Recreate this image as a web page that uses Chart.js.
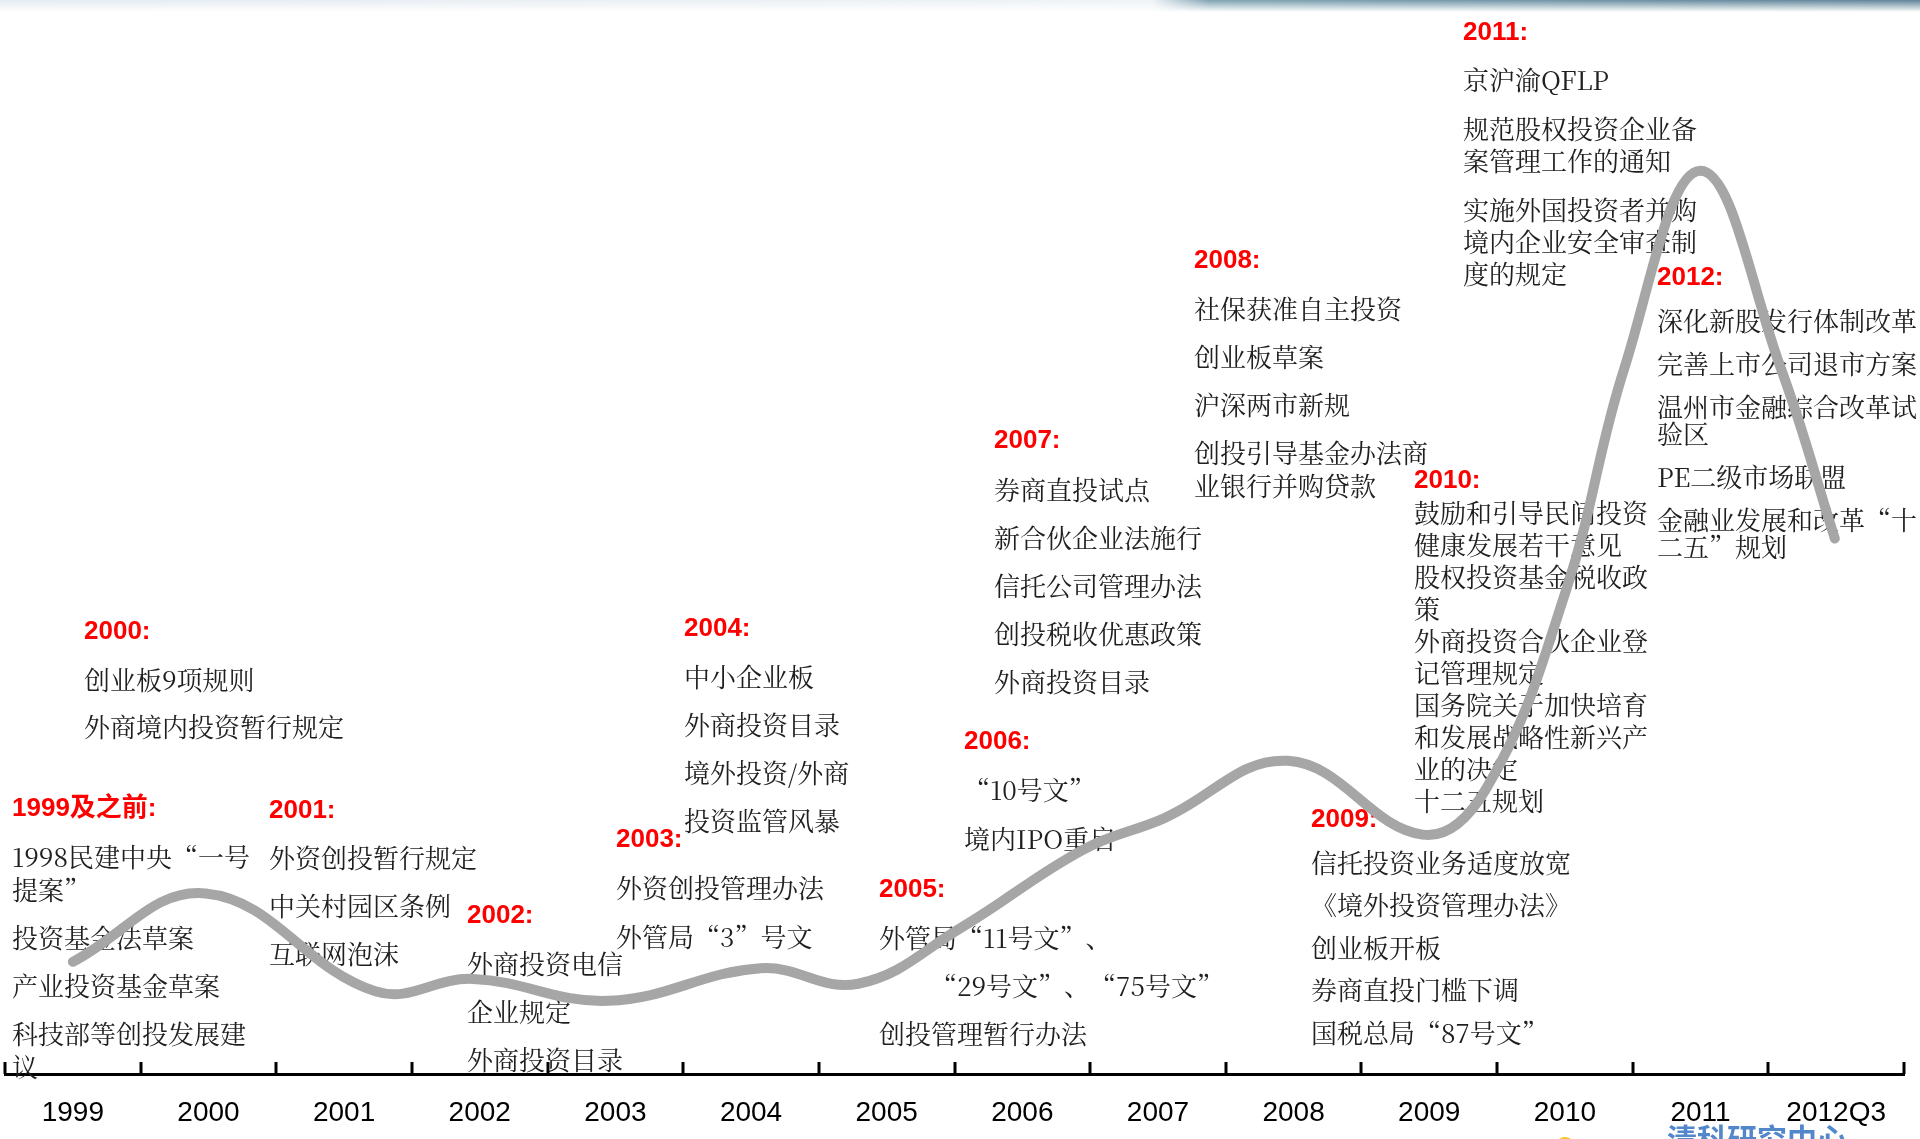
<!DOCTYPE html>
<html>
<head>
<meta charset="utf-8">
<script src="https://cdn.jsdelivr.net/npm/chart.js@4"></script>
<style>
  html, body { margin: 0; padding: 0; background: #fff; overflow: hidden; }
  #wrap { position: relative; width: 1920px; height: 1139px; }
  #chart { position: absolute; left: 0; top: 0; }
  #band { position: absolute; left: 0; top: 0; width: 1920px; height: 12px;
    background: linear-gradient(to bottom, rgba(255,255,255,0) 0%, #fff 100%),
                linear-gradient(to right, #e4ebf2 0%, #eef3f6 60%, #7fa2b2 63%, #5f8498 100%); }
</style>
</head>
<body>
<div id="wrap">
  <canvas id="chart" width="1920" height="1139"></canvas>
  <div id="band"></div>
</div>
<script>
const years = ["1999", "2000", "2001", "2002", "2003", "2004", "2005",
  "2006", "2007", "2008", "2009", "2010", "2011", "2012Q3"];

// curve: position on the time axis (0 = 1999) and its height
const curveX = [0, 0.98, 2.23, 2.95, 3.95, 5.07, 5.79, 6.55, 7.45, 8.04,
  8.96, 9.95, 10.42, 11.01, 11.44, 12.0, 12.59, 12.99];
const curveY = [10.5, 16.9, 7.75, 8.9, 6.85, 9.9, 8.45, 13.7, 21.0, 23.9,
  29.3, 22.4, 26.7, 45.3, 66.1, 84.5, 66.1, 50.1];

const eventTitles = ["1999及之前:", "2000:", "2001:", "2002:", "2003:", "2004:", "2005:",
  "2006:", "2007:", "2008:", "2009:", "2010:", "2011:", "2012:"];

const eventItems = [
  [["1998民建中央“一号", "提案”"], "投资基金法草案", "产业投资基金草案", ["科技部等创投发展建", "议"]],
  ["创业板9项规则", "外商境内投资暂行规定"],
  ["外资创投暂行规定", "中关村园区条例", "互联网泡沫"],
  ["外商投资电信", "企业规定", "外商投资目录"],
  ["外资创投管理办法", "外管局“3”号文"],
  ["中小企业板", "外商投资目录", "境外投资/外商", "投资监管风暴"],
  ["外管局“11号文”、", "　　“29号文”、“75号文”", "创投管理暂行办法"],
  ["“10号文”", "境内IPO重启"],
  ["券商直投试点", "新合伙企业法施行", "信托公司管理办法", "创投税收优惠政策", "外商投资目录"],
  ["社保获准自主投资", "创业板草案", "沪深两市新规", ["创投引导基金办法商", "业银行并购贷款"]],
  ["信托投资业务适度放宽", "《境外投资管理办法》", "创业板开板", "券商直投门槛下调", "国税总局“87号文”"],
  [["鼓励和引导民间投资", "健康发展若干意见"], ["股权投资基金税收政", "策"],
   ["外商投资合伙企业登", "记管理规定"], ["国务院关于加快培育", "和发展战略性新兴产", "业的决定"], "十二五规划"],
  ["京沪渝QFLP", ["规范股权投资企业备", "案管理工作的通知"], ["实施外国投资者并购", "境内企业安全审查制", "度的规定"]],
  ["深化新股发行体制改革", "完善上市公司退市方案", ["温州市金融综合改革试", "验区"], "PE二级市场联盟", ["金融业发展和改革“十", "二五”规划"]]
];

/* where each year's block of text sits */
const blockLayout = [
  { x: 12, y: 809, head: 48, gap: 48, line: 33 },
  { x: 84, y: 632, head: 48, gap: 47, line: 32 },
  { x: 269, y: 811, head: 47, gap: 48, line: 32 },
  { x: 467, y: 916, head: 48, gap: 48, line: 32 },
  { x: 616, y: 840, head: 48, gap: 49, line: 32 },
  { x: 684, y: 629, head: 48, gap: 48, line: 32 },
  { x: 879, y: 890, head: 48, gap: 48, line: 32 },
  { x: 964, y: 742, head: 48, gap: 49, line: 32 },
  { x: 994, y: 441, head: 49, gap: 48, line: 32 },
  { x: 1194, y: 261, head: 48, gap: 48, line: 33 },
  { x: 1311, y: 820, head: 43, gap: 42.5, line: 32 },
  { x: 1414, y: 481, head: 32, gap: 32, line: 32 },
  { x: 1463, y: 33, head: 47, gap: 49, line: 32 },
  { x: 1657, y: 278, head: 43, gap: 43, line: 27 }
];

const AXIS_Y = 1074;   // axis line of the slide

/* Event text, drawn under the curve */
const eventText = {
  id: "eventText",
  beforeDatasetsDraw(chart) {
    const ctx = chart.ctx;
    ctx.save();
    ctx.textAlign = "left";
    ctx.textBaseline = "middle";
    eventTitles.forEach((title, i) => {
      const b = blockLayout[i];
      ctx.fillStyle = "#ff0000";
      ctx.font = 'bold 26px "Liberation Sans", Arial, "Noto Sans CJK SC", sans-serif';
      ctx.fillText(title, b.x, b.y);

      ctx.fillStyle = "#1f1f1f";
      ctx.font = '26px "Noto Serif CJK SC", "Noto Sans CJK SC", serif';
      let y = b.y + b.head;
      eventItems[i].forEach(item => {
        const lines = Array.isArray(item) ? item : [item];
        lines.forEach((ln, j) => {
          ctx.fillText(ln, b.x, y);
          if (j < lines.length - 1) y += b.line;
        });
        y += b.gap;
      });
    });

    // source mark, cut by the bottom edge
    ctx.fillStyle = "#5287c9";
    ctx.font = 'bold 30px "Noto Sans CJK SC", sans-serif';
    ctx.textBaseline = "top";
    ctx.fillText("清科研究中心", 1667, 1124);
    ctx.fillStyle = "#f3c623";
    ctx.beginPath();
    ctx.arc(1565, 1147, 10, 0, Math.PI * 2);
    ctx.fill();
    ctx.restore();
  }
};

/* Short ticks pointing up from the axis, between the years */
const upTicks = {
  id: "upTicks",
  afterDraw(chart) {
    const xs = chart.scales.x;
    const ctx = chart.ctx;
    ctx.save();
    ctx.strokeStyle = "#000";
    ctx.lineWidth = 3;
    ctx.beginPath();
    xs.ticks.forEach(t => {
      if (Number.isInteger(t.value)) return;
      const px = Math.round(xs.getPixelForValue(t.value));
      ctx.moveTo(px, xs.top);
      ctx.lineTo(px, xs.top - 12);
    });
    ctx.stroke();
    ctx.restore();
  }
};

const chart = new Chart(document.getElementById("chart").getContext("2d"), {
  type: "line",
  data: {
    datasets: [{
      data: curveX.map((x, i) => ({ x, y: curveY[i] })),
      borderColor: "#a6a6a6",
      borderWidth: 10,
      borderCapStyle: "round",
      borderJoinStyle: "round",
      tension: 0.4,
      pointRadius: 0,
      fill: false
    }]
  },
  options: {
    responsive: false,
    devicePixelRatio: 1,
    animation: false,
    layout: { padding: { left: 2, right: 16, top: 0, bottom: 0 } },
    plugins: { legend: { display: false }, tooltip: { enabled: false } },
    scales: {
      x: {
        type: "linear",
        min: -0.5,
        max: 13.5,
        grid: { display: false, drawTicks: false },
        border: { display: true, color: "#000", width: 3 },
        ticks: {
          stepSize: 0.5,
          autoSkip: false,
          maxRotation: 0,
          minRotation: 0,
          padding: 2,
          color: "#000",
          font: { family: '"Liberation Sans", Arial, sans-serif', size: 28, lineHeight: 2.64 },
          callback: v => Number.isInteger(v) ? years[v] : ""
        }
      },
      y: { display: false, min: 0, max: 100 }
    }
  },
  plugins: [eventText, upTicks]
});

/* put the axis line where the slide has it */
const shift = Math.round(AXIS_Y - chart.scales.x.top);
if (shift !== 0) {
  chart.options.layout.padding.bottom = -shift;
  chart.update("none");
}
</script>
</body>
</html>
